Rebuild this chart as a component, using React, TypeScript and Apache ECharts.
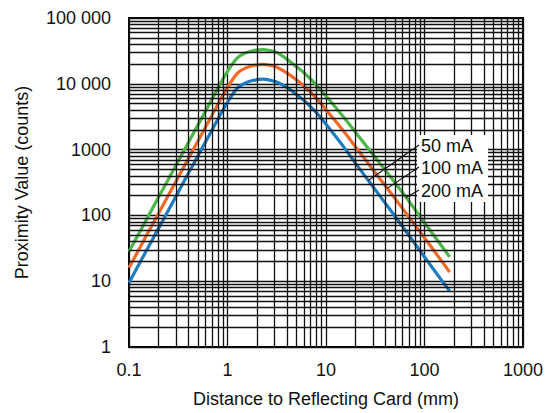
import { useEffect, useRef } from "react";
import * as echarts from "echarts";

// Distance to reflecting card (mm)
const distanceMm = [0.1, 0.15, 0.2, 0.3, 0.5, 0.7, 0.85, 1, 1.15, 1.3, 1.5, 1.8, 2.3, 2.7, 3.2, 4, 5, 6, 7, 8, 10, 15, 20, 30, 50, 70, 100, 150, 180];
// Proximity value (counts) per LED current
const counts50mA = [9.5, 29, 64, 196, 800, 2010, 3440, 5250, 7240, 9000, 10200, 11200, 11750, 11350, 10550, 8800, 6900, 5550, 4450, 3630, 2430, 1120, 617, 272, 98, 49, 23.4, 10.2, 7.1];
const counts100mA = [16, 48.9, 108, 329, 1340, 3380, 5770, 8810, 12160, 15140, 17180, 18840, 19720, 19050, 17740, 14690, 11480, 9230, 7410, 6030, 4030, 1930, 1096, 495, 182, 93, 45.7, 20, 13.8];
const counts200mA = [28.2, 86, 190, 578, 2355, 5940, 10140, 15490, 21130, 25700, 29170, 31840, 33110, 31990, 29790, 23710, 18200, 14620, 11750, 9550, 6530, 3160, 1820, 841, 316, 162, 77.6, 33.9, 23.4];

const seriesNames = ["50 mA", "100 mA", "200 mA"];
const seriesColors = ["#1b7cc1", "#f26a24", "#4cb848"];
// x positions (mm) where each label's leader line touches its curve
const leaderAnchorX = [26.9, 41.9, 65];

const xDecades = [0.1, 1, 10, 100];
const yDecades = [1, 10, 100, 1000, 10000];
const minorSteps = [2, 3, 4, 5, 6, 7, 8, 9];

const FONT = "'Liberation Sans', Arial, Helvetica, sans-serif";

function fmtX(v: number) {
  return String(Number(v.toPrecision(6)));
}
function fmtY(v: number) {
  const n = Math.round(v);
  if (n >= 10000) return String(n).replace(/\B(?=(\d{3})+(?!\d))/g, " ");
  return String(n);
}

function interpLog(xs: number[], ys: number[], x: number) {
  const lx = Math.log10(x);
  for (let i = 0; i < xs.length - 1; i++) {
    const a = Math.log10(xs[i]);
    const b = Math.log10(xs[i + 1]);
    if (lx >= a && lx <= b) {
      const t = (lx - a) / (b - a);
      return Math.pow(10, Math.log10(ys[i]) + t * (Math.log10(ys[i + 1]) - Math.log10(ys[i])));
    }
  }
  return ys[ys.length - 1];
}

export default function App() {
  const ref = useRef<HTMLDivElement>(null);
  useEffect(() => {
    if (!ref.current) return;
    const chart = echarts.init(ref.current, null, { renderer: "svg" });
    const allSeries = [counts50mA, counts100mA, counts200mA];

    const vGrid: any[] = [];
    xDecades.forEach((d) => minorSteps.forEach((m) => vGrid.push({ xAxis: Number((d * m).toPrecision(6)) })));
    const hGrid: any[] = [];
    yDecades.forEach((d) => minorSteps.forEach((m) => hGrid.push({ yAxis: d * m })));

    const gridLineStyle = { color: "#111", width: 1.3, type: "solid" as const };

    chart.setOption({
      animation: false,
      textStyle: { fontFamily: FONT },
      grid: { left: 129, top: 18, right: 23, bottom: 61, show: true, borderColor: "#000", borderWidth: 2, backgroundColor: "#fff" },
      xAxis: {
        type: "log",
        logBase: 10,
        min: 0.1,
        max: 1000,
        name: "Distance to Reflecting Card (mm)",
        nameLocation: "middle",
        nameGap: 43,
        nameTextStyle: { fontSize: 18, color: "#111", fontFamily: FONT },
        axisLine: { show: false },
        axisTick: { show: false },
        axisLabel: { fontSize: 18, color: "#111", margin: 14, formatter: fmtX, fontFamily: FONT },
        splitLine: { show: true, lineStyle: gridLineStyle },
      },
      yAxis: {
        type: "log",
        logBase: 10,
        min: 1,
        max: 100000,
        name: "Proximity Value (counts)",
        nameLocation: "middle",
        nameGap: 98,
        nameTextStyle: { fontSize: 18, color: "#111", fontFamily: FONT },
        axisLine: { show: false },
        axisTick: { show: false },
        axisLabel: { fontSize: 18, color: "#111", margin: 18, formatter: fmtY, fontFamily: FONT },
        splitLine: { show: true, lineStyle: gridLineStyle },
      },
      series: [
        {
          type: "line",
          name: "grid",
          data: [[1, 1]],
          symbol: "none",
          lineStyle: { opacity: 0 },
          silent: true,
          z: 1,
          markLine: {
            silent: true,
            symbol: ["none", "none"],
            label: { show: false },
            lineStyle: gridLineStyle,
            emphasis: { disabled: true },
            data: [...vGrid, ...hGrid],
          },
        },
        ...allSeries.map((vals, i) => ({
          type: "line",
          name: seriesNames[i],
          data: distanceMm.map((x, j) => [x, vals[j]]),
          symbol: "none",
          smooth: 0.35,
          z: 3,
          lineStyle: { color: seriesColors[i], width: 3.2 },
        })),
      ],
    });

    const labelLeft = 421;
    const labelY = [146, 168, 191];
    const graphics: any[] = [
      { type: "rect", shape: { x: 417, y: 135, width: 71, height: 67 }, style: { fill: "#fff" }, z: 50 },
    ];
    seriesNames.forEach((name, i) => {
      const ax = leaderAnchorX[i];
      const ay = interpLog(distanceMm, allSeries[i], ax);
      const p = chart.convertToPixel({ gridIndex: 0 }, [ax, ay]) as number[];
      graphics.push({
        type: "line",
        shape: { x1: labelLeft - 2, y1: labelY[i] - 1, x2: p[0], y2: p[1] },
        style: { stroke: "#111", lineWidth: 1.1 },
        z: 60,
      });
      graphics.push({
        type: "text",
        x: labelLeft,
        y: labelY[i],
        style: { text: name, fontSize: 18, fill: "#111", fontFamily: FONT, verticalAlign: "middle" },
        z: 60,
      });
    });
    chart.setOption({ graphic: graphics });

    return () => chart.dispose();
  }, []);
  return <div ref={ref} style={{ position: "absolute", left: 0, top: 0, width: 546, height: 413 }} />;
}
